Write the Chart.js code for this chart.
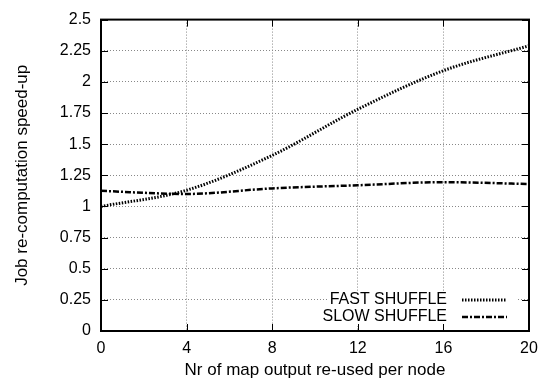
<!DOCTYPE html>
<html><head><meta charset="utf-8">
<script src="https://cdn.jsdelivr.net/npm/chart.js@4.4.0/dist/chart.umd.min.js"></script>
<style>html,body{margin:0;padding:0;background:#fff}#wrap{width:546px;height:381px}</style>
</head><body><div id="wrap"><canvas id="c" width="546" height="381"></canvas></div>
<script>
const xValues = [0, 4, 8, 12, 16, 20];
const fastShuffle = [1.0, 1.13, 1.41, 1.78, 2.09, 2.29];
const slowShuffle = [1.125, 1.1, 1.145, 1.17, 1.195, 1.18];
const seriesNames = ["FAST SHUFFLE", "SLOW SHUFFLE"];
const xTitle = "Nr of map output re-used per node";
const yTitle = "Job re-computation speed-up";
const FONT = "'Liberation Sans', Arial, Helvetica, sans-serif";

const styles = [
  {dash: [1.5, 1.5], width: 3},
  {dash: [6, 2, 2, 2], width: 2.5}
];

const framePlugin = {
  id: 'frame',
  afterDraw(chart) {
    const {ctx, chartArea: a, scales} = chart;
    ctx.save();
    // legend
    const lx = 447, sx0 = 462, sx1 = 507;
    const rows = [300, 317];
    ctx.fillStyle = '#fff';
    ctx.fillRect(328, 291, 190, 35);
    ctx.font = '16px ' + FONT;
    ctx.textAlign = 'right';
    ctx.textBaseline = 'middle';
    seriesNames.forEach((n, i) => {
      ctx.fillStyle = '#000';
      ctx.fillText(n, lx, rows[i]);
      ctx.beginPath();
      ctx.setLineDash(styles[i].dash);
      ctx.lineWidth = styles[i].width;
      ctx.strokeStyle = '#000';
      ctx.moveTo(sx0, rows[i]);
      ctx.lineTo(sx1, rows[i]);
      ctx.stroke();
    });
    ctx.setLineDash([]);
    // ticks inward
    ctx.lineWidth = 1;
    ctx.strokeStyle = '#000';
    ctx.beginPath();
    scales.x.ticks.forEach(t => {
      const p = Math.round(scales.x.getPixelForValue(t.value)) + 0.5;
      ctx.moveTo(p, a.bottom); ctx.lineTo(p, a.bottom - 7);
      ctx.moveTo(p, a.top); ctx.lineTo(p, a.top + 7);
    });
    scales.y.ticks.forEach(t => {
      const p = Math.round(scales.y.getPixelForValue(t.value)) + 0.5;
      ctx.moveTo(a.left, p); ctx.lineTo(a.left + 7, p);
      ctx.moveTo(a.right, p); ctx.lineTo(a.right - 7, p);
    });
    ctx.stroke();
    // frame
    ctx.lineWidth = 2;
    ctx.strokeRect(a.left, a.top, a.right - a.left, a.bottom - a.top);
    ctx.restore();
  }
};

new Chart(document.getElementById('c'), {
  type: 'line',
  data: {
    datasets: [fastShuffle, slowShuffle].map((vals, i) => ({
      label: seriesNames[i],
      data: xValues.map((x, j) => ({x, y: vals[j]})),
      borderColor: '#000',
      borderWidth: styles[i].width,
      borderDash: styles[i].dash,
      pointRadius: 0,
      tension: 0.4,
      cubicInterpolationMode: 'monotone',
      fill: false
    }))
  },
  options: {
    responsive: false,
    animation: false,
    layout: {padding: {left: 8, right: 17, top: 17, bottom: 0}},
    plugins: {legend: {display: false}, tooltip: {enabled: false}},
    scales: {
      x: {
        type: 'linear', min: 0, max: 20,
        ticks: {stepSize: 4, color: '#000', font: {family: FONT, size: 16}, padding: 8, maxRotation: 0},
        grid: {color: '#888', lineWidth: 1, drawTicks: false},
        border: {display: false, dash: [1, 2]},
        title: {display: true, text: xTitle, color: '#000', font: {family: FONT, size: 17}, padding: {top: 0, bottom: 0}},
        afterFit(s) { s.height = 50; }
      },
      y: {
        min: 0, max: 2.5,
        ticks: {stepSize: 0.25, color: '#000', font: {family: FONT, size: 16}, padding: 10,
          callback: v => String(Math.round(v * 100) / 100)},
        grid: {color: '#888', lineWidth: 1, drawTicks: false},
        border: {display: false, dash: [1, 2]},
        title: {display: true, text: yTitle, color: '#000', font: {family: FONT, size: 17}, padding: {top: 4, bottom: 4}},
        afterFit(s) { s.width = 93; }
      }
    }
  },
  plugins: [framePlugin]
});
</script></body></html>
